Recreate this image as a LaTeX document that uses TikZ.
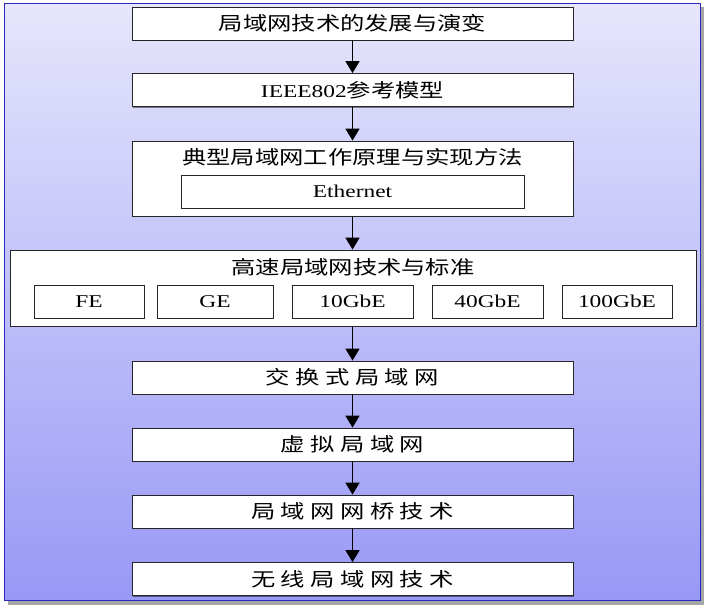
\documentclass[tikz,border=0pt]{standalone}
\usepackage{fontspec}
\setmainfont{Liberation Serif}[FakeStretch=1.3]
\newfontfamily\cjk{Noto Sans CJK SC}[FakeStretch=1.28]
\usetikzlibrary{arrows.meta,shadows}
\usetikzlibrary{positioning}
\definecolor{bgtop}{RGB}{230,230,252}
\definecolor{bgbottom}{RGB}{152,152,246}
\definecolor{bgedge}{RGB}{40,40,190}
\tikzset{every node/.append style={font=\fontsize{18}{20}\selectfont}}
\tikzset{
  boxshadow/.style={drop shadow={shadow xshift=1.3pt,shadow yshift=-1.3pt,fill=black,opacity=0.45}},
  stage/.style={draw=black!85,fill=white,line width=0.8pt,minimum width=441pt,minimum height=33pt,inner sep=0pt,boxshadow},
  group/.style={draw=black!85,fill=white,line width=0.8pt,inner sep=0pt,boxshadow},
  item/.style={draw=black!85,fill=white,line width=0.8pt,minimum height=33pt,inner sep=0pt},
  zh/.style={font=\cjk\fontsize{19}{21}\selectfont},
  flow/.style={-{Triangle[width=14pt,length=12pt]},line width=1.6pt,black}
}

\begin{document}
\begin{tikzpicture}[x=1pt,y=-1pt]
  \useasboundingbox (0,0) rectangle (707,608);
  \fill[black!35] (8,7) rectangle (704,605);
  \shade[top color=bgtop,bottom color=bgbottom] (4,3) rectangle (700,600);
  \draw[bgedge,line width=0.8pt] (4,3) rectangle (700,600);

  \node[stage,zh] (evolve) at (352.5,23.5) {局域网技术的发展与演变};
  \node[stage] (ieee) at (352.5,90) {IEEE802{\cjk\fontsize{19}{21}\selectfont 参考模型}};
  \node[group,minimum width=441pt,minimum height=75pt] (typical) at (352.5,178.5) {};
  \node[zh] (typicaltitle) at (352.5,157) {典型局域网工作原理与实现方法};
  \node[item,minimum width=343pt] (ether) at (352.5,191.5) {Ethernet};
  \node[group,minimum width=686pt,minimum height=76pt] (fast) at (353,288) {};
  \node[zh] (fasttitle) at (353,267) {高速局域网技术与标准};
  \node[item,minimum width=110pt] (fe) at (89,301.5) {FE};
  \node[item,minimum width=116pt] (ge) at (215,301.5) {GE};
  \node[item,minimum width=121pt] (tenge) at (352.5,301.5) {10GbE};
  \node[item,minimum width=111pt] (fortyge) at (487.5,301.5) {40GbE};
  \node[item,minimum width=110pt] (hundredge) at (617,301.5) {100GbE};
  \node[stage,zh] (switched) at (352.5,377.5) {交 换 式 局 域 网};
  \node[stage,zh] (vlan) at (352.5,444.5) {虚 拟 局 域 网};
  \node[stage,zh] (bridge) at (352.5,511.5) {局 域 网 网 桥 技 术};
  \node[stage,zh] (wlan) at (352.5,579) {无 线 局 域 网 技 术};

  \draw[flow] (evolve) -- (ieee);
  \draw[flow] (ieee) -- (typical);
  \draw[flow] (typical) -- (fast.north -| typical);
  \draw[flow] (fast.south -| switched) -- (switched);
  \draw[flow] (switched) -- (vlan);
  \draw[flow] (vlan) -- (bridge);
  \draw[flow] (bridge) -- (wlan);
\end{tikzpicture}
\end{document}
